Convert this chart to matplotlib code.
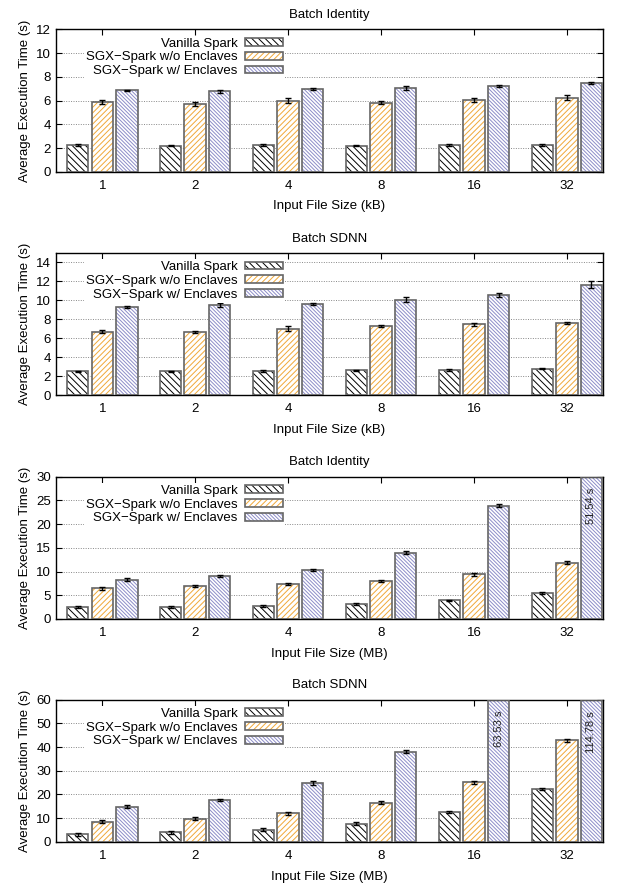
import numpy as np
import matplotlib
matplotlib.use("Agg")
import matplotlib.pyplot as plt
from matplotlib.patches import Patch

plt.rcParams['font.family'] = ['Liberation Sans', 'DejaVu Sans']
plt.rcParams['hatch.linewidth'] = 0.7

sizes = ["1", "2", "4", "8", "16", "32"]
series_names = ["Vanilla Spark", "SGX\u2212Spark w/o Enclaves", "SGX\u2212Spark w/ Enclaves"]

# Batch Identity, kB
id_kb_vanilla = [2.25, 2.2, 2.25, 2.2, 2.25, 2.25]
id_kb_noencl = [5.85, 5.7, 6.0, 5.8, 6.05, 6.25]
id_kb_encl = [6.85, 6.8, 6.95, 7.05, 7.2, 7.45]
id_kb_err = [[0.05] * 6, [0.18, 0.15, 0.22, 0.13, 0.15, 0.18], [0.08, 0.12, 0.07, 0.15, 0.08, 0.08]]

# Batch SDNN, kB
sd_kb_vanilla = [2.5, 2.5, 2.55, 2.6, 2.65, 2.8]
sd_kb_noencl = [6.7, 6.7, 7.0, 7.3, 7.45, 7.6]
sd_kb_encl = [9.25, 9.5, 9.6, 10.05, 10.55, 11.65]
sd_kb_err = [[0.08] * 6, [0.2, 0.1, 0.25, 0.1, 0.12, 0.1], [0.1, 0.2, 0.1, 0.25, 0.18, 0.35]]

# Batch Identity, MB
id_mb_vanilla = [2.5, 2.6, 2.8, 3.2, 3.9, 5.4]
id_mb_noencl = [6.5, 7.0, 7.4, 8.0, 9.4, 11.9]
id_mb_encl = [8.3, 9.1, 10.4, 14.0, 23.9, 51.54]
id_mb_err = [[0.2] * 6, [0.3, 0.2, 0.2, 0.3, 0.3, 0.3], [0.3, 0.2, 0.2, 0.3, 0.3, 0.0]]

# Batch SDNN, MB
sd_mb_vanilla = [3.3, 4.0, 5.2, 7.6, 12.6, 22.3]
sd_mb_noencl = [8.6, 9.8, 12.1, 16.5, 25.2, 42.8]
sd_mb_encl = [14.8, 17.7, 24.9, 38.0, 63.53, 114.78]
sd_mb_err = [[0.6] * 6, [0.6, 0.6, 0.6, 0.6, 0.6, 0.6], [0.6, 0.6, 0.8, 0.6, 0.0, 0.0]]

panels = [
    ("Batch Identity", "Input File Size (kB)", 12, 2, [id_kb_vanilla, id_kb_noencl, id_kb_encl], id_kb_err),
    ("Batch SDNN", "Input File Size (kB)", 15, 2, [sd_kb_vanilla, sd_kb_noencl, sd_kb_encl], sd_kb_err),
    ("Batch Identity", "Input File Size (MB)", 30, 5, [id_mb_vanilla, id_mb_noencl, id_mb_encl], id_mb_err),
    ("Batch SDNN", "Input File Size (MB)", 60, 10, [sd_mb_vanilla, sd_mb_noencl, sd_mb_encl], sd_mb_err),
]

hatch_colors = ["black", "#f0a838", "#8c8cc8"]
hatches = ["\\" * 5, "/" * 6, "\\" * 9]
edge = "#666666"
width = 0.23
offsets = [-0.265, 0.0, 0.265]
bottoms = [0.807, 0.556, 0.3045, 0.054]

fig = plt.figure(figsize=(6.2, 8.9), dpi=100)
x = np.arange(len(sizes))

for (title, xlabel, ymax, ystep, data, errs), b in zip(panels, bottoms):
    ax = fig.add_axes([0.09, b, 0.882, 0.16])
    ax.set_axisbelow(True)
    for k in range(3):
        vals = np.array(data[k])
        xs = x + offsets[k]
        shown = np.minimum(vals, ymax)
        ax.bar(xs, shown, width, color="white", edgecolor=hatch_colors[k],
               hatch=hatches[k], linewidth=0, zorder=2)
        ax.bar(xs, shown, width, fill=False, edgecolor=edge, linewidth=1.2, zorder=3)
        ok = vals < ymax
        ax.errorbar(xs[ok], vals[ok], yerr=np.array(errs[k])[ok], fmt="none",
                    ecolor="black", elinewidth=1, capsize=2.5, capthick=1, zorder=4)
        # bars that run off the top get their value written inside
        for xi, v in zip(xs[~ok], vals[~ok]):
            ax.text(xi, ymax * 0.92, "%.2f s" % v, rotation=90, ha="center", va="top",
                    fontsize=8, color="#222222", zorder=5)

    ax.set_xlim(-0.5, 5.385)
    ax.set_ylim(0, ymax)
    ax.set_yticks(np.arange(0, ymax + 0.01, ystep))
    ax.set_xticks(x)
    ax.set_xticklabels(sizes)
    ax.tick_params(axis="y", direction="in", right=True, length=4, labelsize=9.5)
    ax.tick_params(axis="x", direction="in", top=True, length=4, labelsize=9.5, pad=6)
    ax.yaxis.grid(True, linestyle=(0, (1, 1.5)), color="#888888", linewidth=0.7)
    for s in ax.spines.values():
        s.set_linewidth(1.0)
    ax.set_title(title, fontsize=9.5, pad=8)
    ax.set_xlabel(xlabel, fontsize=9.5, labelpad=6)
    ax.set_ylabel("Average Execution Time (s)", fontsize=9.5, labelpad=4)

    proxies = []
    for k in range(3):
        p = Patch(facecolor="white", edgecolor=hatch_colors[k], hatch=hatches[k], linewidth=0)
        q = Patch(fill=False, edgecolor=edge, linewidth=1.2)
        proxies.append((p, q))
    leg = ax.legend(proxies, series_names, loc="upper right",
                    bbox_to_anchor=(0.42, 0.955), markerfirst=False, fontsize=9.5,
                    handlelength=2.9, handleheight=0.55, labelspacing=0.13,
                    handletextpad=0.6, borderpad=0.15, borderaxespad=0,
                    frameon=True, fancybox=False,
                    framealpha=1, edgecolor="none", facecolor="white")
    leg.set_zorder(6)

fig.savefig("out.png", dpi=100)
